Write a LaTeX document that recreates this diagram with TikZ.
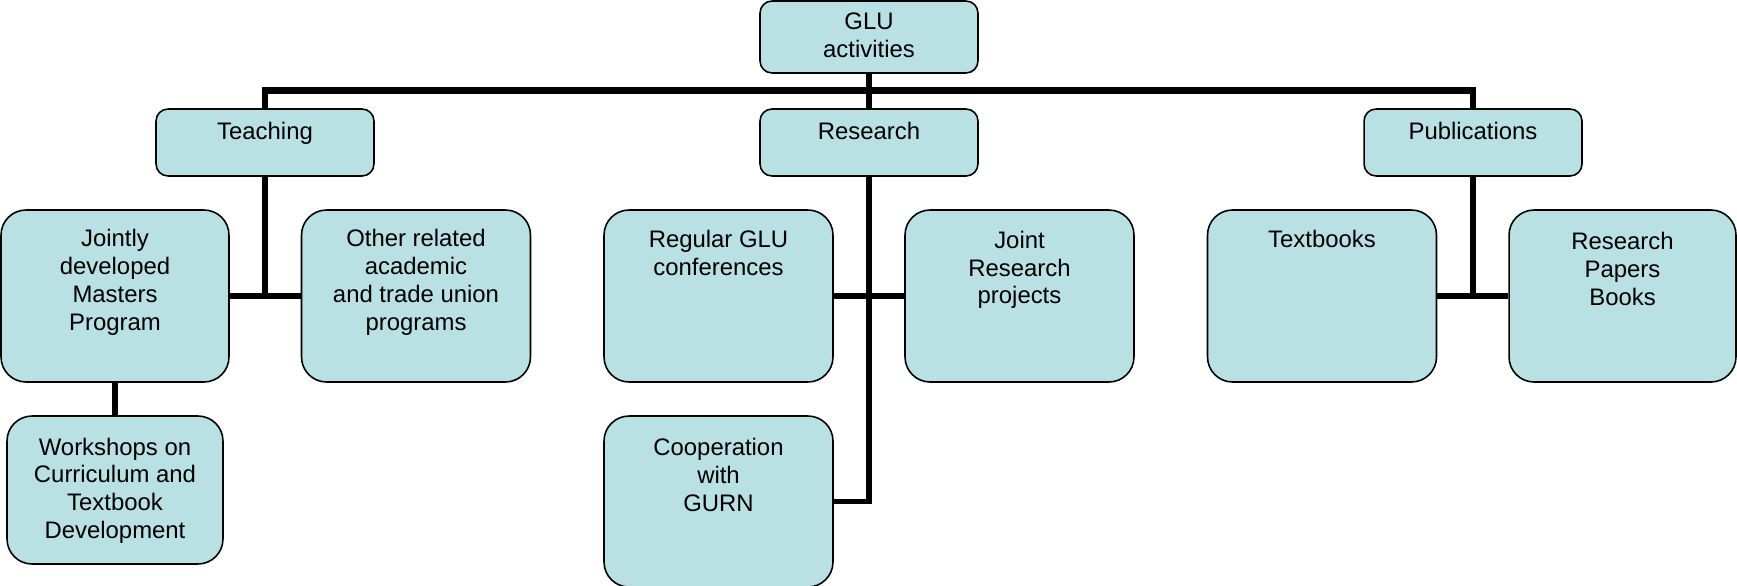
\documentclass[tikz,border=0pt]{standalone}
\usepackage{fontspec}
\setmainfont{Liberation Sans}
\definecolor{boxfill}{RGB}{185,224,227}
% text block in a box: width, height, first baseline, text
\newcommand{\boxtext}[4]{\parbox[c][#2][t]{#1}{\centering\rule{0pt}{#3}#4}}

\begin{document}
\begin{tikzpicture}[x=0.02cm,y=-0.02cm]
	\tikzstyle{box}=[draw,fill=boxfill,line width=0.9pt,rounded corners=0.24cm,inner sep=0pt,font=\fontsize{13.6}{15.8}\selectfont]
	\tikzstyle{bigbox}=[box,rounded corners=0.5cm]
	\tikzstyle{conn}=[line width=2.9pt]
	\tikzstyle{bar}=[line width=3.5pt]

	\useasboundingbox (0,0) rectangle (1737,585);

	\node [box] (glu) at (869, 37) {\boxtext{4.36cm}{1.44cm}{16.2pt}{GLU\\activities}};

	\node [box] (teach) at ( 265, 142.5) {\boxtext{4.36cm}{1.34cm}{17.3pt}{Teaching}};
	\node [box] (res)   at ( 869, 142.5) {\boxtext{4.36cm}{1.34cm}{17.3pt}{Research}};
	\node [box] (pub)   at (1473, 142.5) {\boxtext{4.36cm}{1.34cm}{17.3pt}{Publications}};

	\node [bigbox] (joint) at ( 115, 296) {\boxtext{4.56cm}{3.44cm}{21pt}{Jointly\\developed\\Masters\\Program}};
	\node [bigbox] (other) at ( 416, 296) {\boxtext{4.58cm}{3.44cm}{21pt}{Other related\\academic\\and trade union\\programs}};
	\node [bigbox] (conf)  at ( 718.5, 296) {\boxtext{4.58cm}{3.44cm}{21.3pt}{Regular GLU\\conferences}};
	\node [bigbox] (jrp)   at (1019.5, 296) {\boxtext{4.58cm}{3.44cm}{21.8pt}{Joint\\Research\\projects}};
	\node [bigbox] (textb) at (1322, 296) {\boxtext{4.58cm}{3.44cm}{21.3pt}{Textbooks}};
	\node [bigbox] (rpb)   at (1622.5, 296) {\boxtext{4.54cm}{3.44cm}{22.6pt}{Research\\Papers\\Books}};

	\node [bigbox] (work) at (115, 490) {\boxtext{4.32cm}{2.96cm}{22.2pt}{Workshops on\\Curriculum and\\Textbook\\Development}};
	\node [bigbox] (coop) at (718.5, 501.5) {\boxtext{4.58cm}{3.42cm}{22.6pt}{Cooperation\\with\\GURN}};

	\coordinate (top) at (869, 90.5);
	\draw[bar] (glu.south) -- (res.north);
	\draw[bar] (teach.north) |- (top) -| (pub.north);

	\draw[conn] (teach.south) -- (teach.south |- joint.east);
	\draw[bar] (joint.east) -- (other.west);
	\draw[conn] (joint.south) -- (work.north);

	\draw[conn] (res.south) |- (coop.east);
	\draw[bar] (conf.east) -- (jrp.west);

	\draw[conn] (pub.south) -- (pub.south |- textb.east);
	\draw[bar] (textb.east) -- (rpb.west);
\end{tikzpicture}
\end{document}
